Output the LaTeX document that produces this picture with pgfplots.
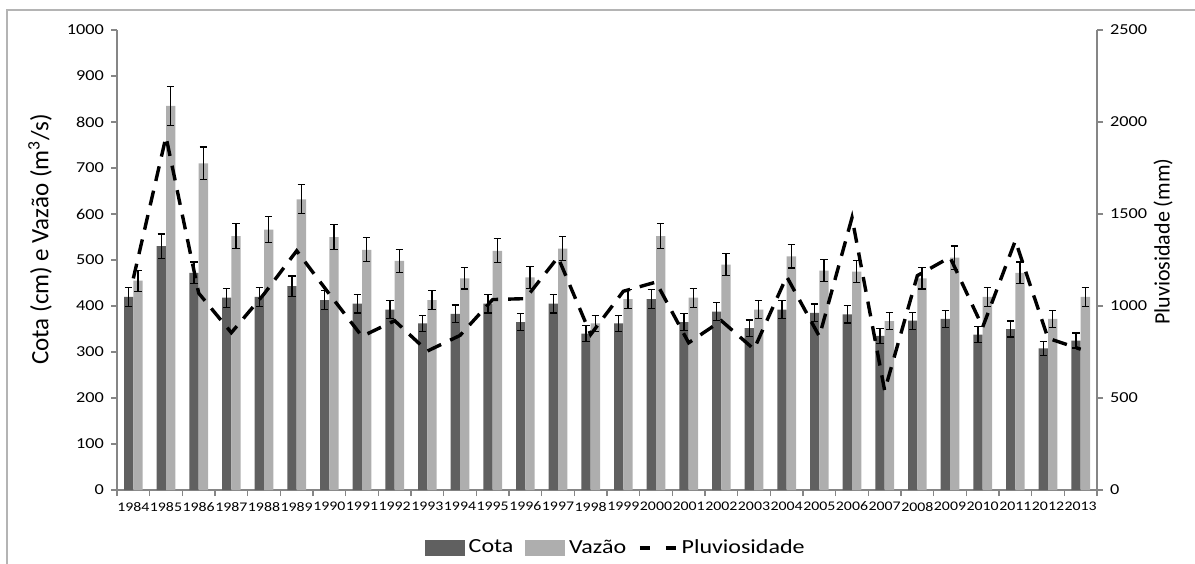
\documentclass[border=0pt]{standalone}
\usepackage{fontspec}
\setmainfont[FakeStretch=1.2]{Carlito}
\newfontfamily\labfont{Carlito}
\usepackage{pgfplots}
\usepackage{pgfplotstable}
\pgfplotsset{compat=1.18}

\definecolor{cota}{HTML}{606060}
\definecolor{vazao}{HTML}{AEAEAE}
\definecolor{axgray}{HTML}{868686}
\definecolor{framegray}{HTML}{B4B4B4}

% ano, cota (cm), erro, vazao (m3/s), erro, pluviosidade (mm)
\pgfplotstableread{
ano  cota ecota vazao evazao pluv
1984 420 21.0 455 22.8 1150
1985 530 26.5 835 41.8 1920
1986 472 23.6 710 35.5 1070
1987 418 20.9 552 27.6 855
1988 420 21.0 566 28.3 1065
1989 443 22.2 632 31.6 1300
1990 413 20.7 550 27.5 1065
1991 405 20.3 522 26.1 835
1992 392 19.6 498 24.9 920
1993 362 18.1 413 20.7 755
1994 383 19.2 460 23.0 840
1995 405 20.3 520 26.0 1035
1996 365 18.3 462 23.1 1040
1997 405 20.3 525 26.3 1265
1998 340 17.0 362 18.1 845
1999 362 18.1 415 20.8 1080
2000 415 20.8 552 27.6 1130
2001 365 18.3 418 20.9 800
2002 388 19.4 490 24.5 920
2003 352 17.6 392 19.6 765
2004 392 19.6 508 25.4 1160
2005 385 19.3 477 23.9 835
2006 382 19.1 475 23.8 1480
2007 335 16.8 367 18.4 540
2008 368 18.4 460 23.0 1165
2009 372 18.6 505 25.3 1265
2010 338 16.9 420 21.0 885
2011 350 17.5 472 23.6 1355
2012 308 15.4 372 18.6 825
2013 325 16.3 420 21.0 765
}\dados

\pgfplotsset{
  common/.style={
    at={(58.5pt,36.5pt)}, anchor=south west,
    scale only axis, width=490pt, height=230pt,
    xmin=1983.5, xmax=2013.5,
    tick align=outside,
    axis line style={draw=axgray, line width=0.6pt},
    tick style={draw=axgray, line width=0.6pt},
    /pgf/number format/1000 sep={},
    /pgf/number format/assume math mode=true,
    yticklabel style={font=\fontsize{7.6}{9}\selectfont},
  },
  errstyle/.style={
    error bars/.cd, y dir=both, y explicit,
    error bar style={black, line width=0.6pt},
    error mark options={black, line width=0.6pt, mark size=1.9pt, rotate=90},
  },
}

\begin{document}
\begin{tikzpicture}
\useasboundingbox (0pt,0pt) rectangle (597.5pt,281.5pt);
\draw[framegray, line width=0.75pt] (3.5pt,-1pt) -- (3.5pt,276.5pt) -- (598pt,276.5pt);

% cota e vazao (eixo esquerdo)
\begin{axis}[
  common,
  ybar=0pt, bar width=0.2857,
  ymin=0, ymax=1000,
  axis x line*=bottom, axis y line*=left,
  ytick={0,100,...,1000},
  major tick length=3pt,
  xtick={1983.5,1984.5,...,2013.5}, xticklabels={},
  extra x ticks={1984,1985,...,2013},
  extra x tick style={major tick length=0pt},
  xticklabel style={font=\fontsize{6.6}{8}\selectfont, yshift=-2.5pt},
  ylabel={\labfont\fontsize{12.5}{14}\selectfont Cota (cm) e Vazão (m\textsuperscript{3}/s)},
  ylabel style={at={(axis description cs:0,0.545)}, anchor=center, rotate=0, yshift=38.5pt},
]
\addplot[fill=cota, draw=none, errstyle]
  table[x=ano, y=cota, y error=ecota] {\dados};
\addplot[fill=vazao, draw=none, errstyle]
  table[x=ano, y=vazao, y error=evazao] {\dados};
\end{axis}

% pluviosidade (eixo direito)
\begin{axis}[
  common,
  ymin=0, ymax=2500,
  axis x line=none, axis y line*=right,
  ytick={0,500,...,2500},
  major tick length=3pt,
  ylabel={\labfont\fontsize{11}{13}\selectfont Pluviosidade (mm)},
  ylabel style={at={(axis description cs:1,0.54)}, anchor=center, rotate=0, yshift=-33pt},
  legend columns=3,
  legend style={at={(axis description cs:0.51,-0.126)}, anchor=center,
    draw=none, fill=none, font=\fontsize{10}{12}\selectfont,
    /tikz/every even column/.append style={column sep=4pt}},
]
\addlegendimage{legend image code/.code={\fill[cota] (0pt,-3.6pt) rectangle (19.5pt,3.6pt);}}
\addlegendentry{Cota}
\addlegendimage{legend image code/.code={\fill[vazao] (0pt,-3.6pt) rectangle (19.5pt,3.6pt);}}
\addlegendentry{Vazão}
\addplot[black, line width=1.7pt, dash pattern=on 7.5pt off 5pt,
  legend image code/.code={\draw[black, line width=1.7pt, dash pattern=on 5pt off 8pt] (0pt,0pt) -- (18pt,0pt);}]
  table[x=ano, y=pluv] {\dados};
\addlegendentry{Pluviosidade}
\end{axis}
\end{tikzpicture}
\end{document}
